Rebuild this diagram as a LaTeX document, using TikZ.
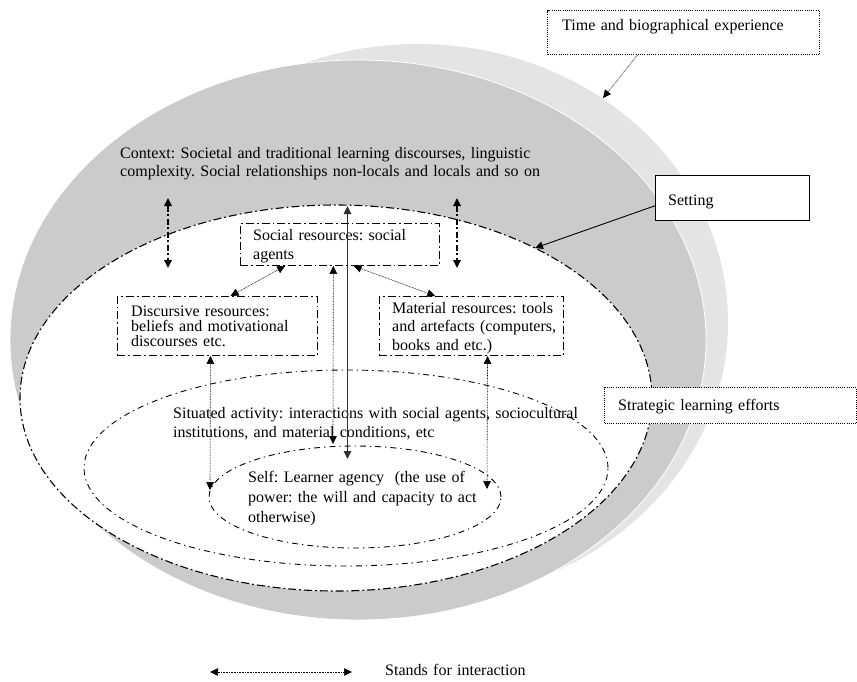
\documentclass[tikz,border=0pt]{standalone}
\usepackage{fontspec}
\setmainfont{Liberation Serif}
\usetikzlibrary{arrows.meta,calc}
\definecolor{rimgray}{HTML}{E4E4E4}
\definecolor{bodygray}{HTML}{CBCBCB}
\definecolor{shaftgray}{HTML}{303030}
\begin{document}
\frenchspacing
\begin{tikzpicture}[x=1pt,y=-1pt,
  every node/.style={font=\fontsize{16}{19}\selectfont},
  lbl/.style={inner sep=0pt, anchor=base west, align=left, text width=460pt},
  dashdot/.style={dash pattern=on 8pt off 3pt on 1.8pt off 3pt},
  frame/.style={draw, fill=white, dashdot, line width=0.9pt, anchor=north west, inner sep=0pt},
  dotframe/.style={draw, fill=white, dash pattern=on 1pt off 1.2pt, line width=1pt, anchor=north west, inner sep=0pt},
  plainframe/.style={draw, fill=white, line width=0.9pt, anchor=north west, inner sep=0pt},
  headtip/.style={-{Triangle[length=8pt,width=7.5pt]}},
  twohead/.style={{Triangle[length=8pt,width=7.5pt]}-{Triangle[length=8pt,width=7.5pt]}},
  interact/.style={twohead, dash pattern=on 0.8pt off 0.8pt, line width=0.6pt},
  ctxarrow/.style={twohead, dash pattern=on 6pt off 2.5pt on 2pt off 2.5pt, line width=1.7pt},
  ring/.style={dash pattern=on 6pt off 4pt on 1.3pt off 4pt, line width=0.9pt}
]
\useasboundingbox (0,0) rectangle (857,681);

% outer rim and body of the setting disc
\fill[rimgray] (418,322) ellipse [x radius=310pt, y radius=278pt];
\filldraw[fill=bodygray, draw=white, line width=0.8pt] (358,340) ellipse [x radius=348pt, y radius=280pt];

% nested activity rings
\filldraw[dashdot, fill=white, line width=1.1pt] (336,398) ellipse [x radius=316pt, y radius=193pt];
\draw[ring] (346,468) ellipse [x radius=262pt, y radius=98pt];
\draw[ring] (355,497) ellipse [x radius=146pt, y radius=51pt];

% frames
\node[dotframe, minimum width=272pt, minimum height=44pt] (time) at (547,10) {};
\node[plainframe, minimum width=154pt, minimum height=45pt] (setbox) at (655,175) {};
\node[dotframe, minimum width=252pt, minimum height=36pt] (strat) at (604,387) {};
\node[frame, minimum width=199pt, minimum height=42pt] (soc) at (240,223) {};
\node[frame, minimum width=200pt, minimum height=59pt] (disc) at (117,296) {};
\node[frame, minimum width=184pt, minimum height=59pt] (mat) at (379,296) {};

% texts
\node[lbl] (timetxt) at (562,30) {Time and biographical experience};
\node[lbl, font=\fontsize{16}{18}\selectfont] (ctxtxt) at (120,158)
  {Context: Societal and traditional learning discourses, linguistic\\complexity. Social relationships non-locals and locals and so on};
\node[lbl] (settxt) at (668,205) {Setting};
\node[lbl] (strtxt) at (618,410) {Strategic learning efforts};
\node[lbl] (soctxt) at (253,240) {Social resources: social\\agents};
\node[lbl, font=\fontsize{16}{15}\selectfont] (disctxt) at (131,316)
  {Discursive resources:\\beliefs and motivational\\discourses etc.};
\node[lbl, font=\fontsize{16}{18.5}\selectfont] (mattxt) at (392,313)
  {Material resources: tools\\and artefacts (computers,\\books and etc.)};
\node[lbl] (sittxt) at (173,418)
  {Situated activity: interactions with social agents, sociocultural\\institutions, and material conditions, etc};
\node[lbl, font=\fontsize{16}{20}\selectfont] (selftxt) at (248,482)
  {Self: Learner agency\ \ (the use of\\power: the will and capacity to act\\otherwise)};
\node[lbl] (legtxt) at (385,675) {Stands for interaction};

% free ends of connectors
\coordinate (rimpt) at (603,98);
\coordinate (setedge) at (535,248);
\coordinate (ctxLa) at (168,198);
\coordinate (ctxLb) at (168,268);
\coordinate (ctxRa) at (457,198);
\coordinate (ctxRb) at (457,268);
\coordinate (settop) at (347.5,206);
\coordinate (selftop) at (347.5,459);
\coordinate (sittop) at (333,444);
\coordinate (selfleft) at (210,490);
\coordinate (selfright) at (487,489);
\coordinate (legL) at (210,672);
\coordinate (legR) at (352,672);

% connectors
\draw[headtip, dash pattern=on 0.8pt off 0.8pt, line width=0.6pt]
  ($(time.south west)!0.331!(time.south east)$) -- (rimpt);
\draw[headtip, line width=0.9pt]
  ($(setbox.south west)!0.33!(setbox.north west)$) -- (setedge);
\draw[ctxarrow] (ctxLa) -- (ctxLb);
\draw[ctxarrow] (ctxRa) -- (ctxRb);
\draw[twohead, line width=1.3pt, draw=shaftgray] (settop) -- (selftop);
\draw[interact] ($(soc.south west)!0.467!(soc.south east)$) -- (sittop);
\draw[interact] ($(soc.south west)!0.226!(soc.south east)$) -- ($(disc.north west)!0.565!(disc.north east)$);
\draw[interact] ($(soc.south west)!0.568!(soc.south east)$) -- ($(mat.north west)!0.304!(mat.north east)$);
\draw[interact] ($(disc.south west)!0.465!(disc.south east)$) -- (selfleft);
\draw[interact] ($(mat.south west)!0.587!(mat.south east)$) -- (selfright);
\draw[interact] (legL) -- (legR);
\end{tikzpicture}
\end{document}
